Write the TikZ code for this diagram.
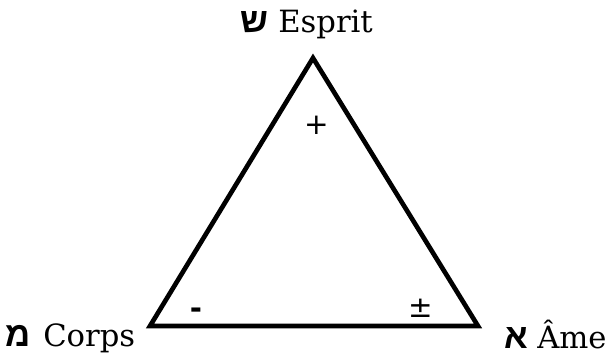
\documentclass[tikz,border=0pt]{standalone}
\usepackage{fontspec}
\setmainfont{DejaVu Serif}
\newfontfamily\hebfont[Script=Hebrew]{Liberation Sans}
\newfontfamily\symfont{DejaVu Sans}
\begin{document}
\begin{tikzpicture}[x=0.75pt,y=-0.75pt,
  lbl/.style={inner sep=0pt,anchor=base west,font=\fontsize{23}{26}\selectfont},
  heb/.style={inner sep=0pt,anchor=base east,font=\hebfont\bfseries\fontsize{26}{28}\selectfont},
  sgn/.style={inner sep=0pt,font=\symfont\fontsize{22}{26}\selectfont},
  edge/.style={line width=3.5pt,line join=miter}]
\useasboundingbox (0,0) rectangle (610,356);
\coordinate (top) at (313,58);
\coordinate (bl) at (150,326);
\coordinate (br) at (478,326);
\draw[edge] (top) -- (bl) -- (br) -- cycle;
\node[heb] (shin) at (269,33) {ש};
\node[lbl] (esprit) at (278,33) {Esprit};
\node[heb] (mem) at (31,346) {מ};
\node[lbl] (corps) at (43,346) {Corps};
\node[heb] (alef) at (528,348) {א};
\node[lbl] (ame) at (537,348) {Âme};
\node[sgn] (plus) at (317,125) {+};
\node[sgn,font=\symfont\bfseries\fontsize{22}{26}\selectfont] (minus) at (196,313) {-};
\node[sgn] (pm) at (421,308) {±};
\end{tikzpicture}
\end{document}
